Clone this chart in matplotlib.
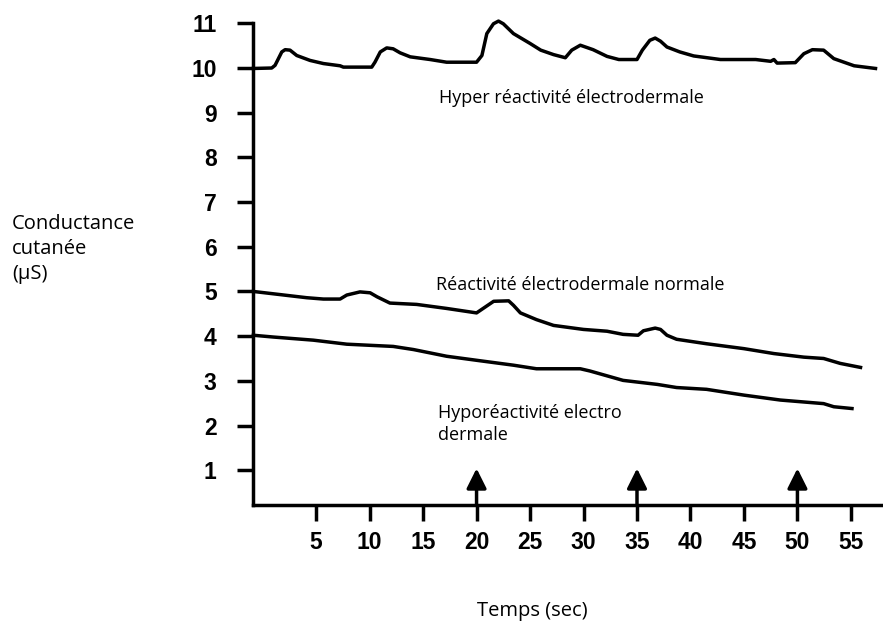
import numpy as np
import matplotlib.pyplot as plt
from matplotlib.patches import FancyArrowPatch

# hyper reactivity trace
t_hyper = [-0.87, 0.85, 1.16, 1.79, 2.1, 2.56, 3.19, 4.43, 5.68, 7.24, 7.55, 10.2, 10.5,
           11.0, 11.6, 12.2, 12.85, 13.8, 15.66, 17.2, 20.0, 20.5, 20.96, 21.58, 22.05,
           22.5, 23.45, 25.0, 26.0, 27.2, 28.3, 28.9, 29.7, 30.9, 32.2, 33.3, 35.0, 35.5,
           36.2, 36.7, 37.2, 37.8, 39.0, 40.3, 42.8, 46.1, 47.5, 47.8, 48.1, 49.8, 50.6,
           51.4, 52.45, 53.4, 55.3, 57.3]
g_hyper = [9.99, 10.0, 10.06, 10.36, 10.41, 10.40, 10.28, 10.17, 10.10, 10.05, 10.02, 10.02,
           10.13, 10.36, 10.45, 10.43, 10.34, 10.25, 10.19, 10.13, 10.13, 10.28, 10.77,
           10.99, 11.05, 10.99, 10.77, 10.55, 10.40, 10.30, 10.23, 10.40, 10.51, 10.41,
           10.26, 10.19, 10.19, 10.40, 10.62, 10.67, 10.60, 10.47, 10.36, 10.27, 10.19,
           10.19, 10.15, 10.19, 10.11, 10.12, 10.32, 10.41, 10.40, 10.21, 10.05, 9.99]

# normal reactivity trace
t_normal = [-0.87, 1.63, 4.12, 5.68, 7.24, 7.87, 9.1, 10.05, 10.7, 11.9, 14.4, 17.2, 20.0,
            20.8, 21.6, 23.0, 23.45, 24.1, 25.6, 27.2, 30.0, 32.2, 33.7, 35.1, 35.6, 36.7,
            37.2, 37.8, 38.7, 41.5, 45.0, 47.8, 50.6, 52.45, 54.0, 55.9]
g_normal = [5.0, 4.93, 4.86, 4.83, 4.83, 4.92, 4.99, 4.97, 4.88, 4.74, 4.71, 4.62, 4.52,
            4.65, 4.78, 4.79, 4.69, 4.52, 4.37, 4.24, 4.15, 4.11, 4.04, 4.02, 4.12, 4.18,
            4.15, 4.02, 3.93, 3.83, 3.72, 3.61, 3.53, 3.50, 3.39, 3.30]

# hypo reactivity trace
t_hypo = [-0.87, 1.0, 4.74, 7.87, 12.2, 14.1, 17.2, 20.3, 23.45, 25.6, 27.5, 29.7, 30.6,
          33.7, 36.9, 38.7, 41.5, 45.0, 48.4, 52.45, 53.4, 55.1]
g_hypo = [4.02, 3.98, 3.91, 3.82, 3.77, 3.70, 3.55, 3.45, 3.35, 3.27, 3.27, 3.27, 3.22,
          3.01, 2.92, 2.85, 2.81, 2.68, 2.57, 2.49, 2.42, 2.38]

stimuli = [20, 35, 50]
xticks = [5, 10, 15, 20, 25, 30, 35, 40, 45, 50, 55]
yticks = [1, 2, 3, 4, 5, 6, 7, 8, 9, 10, 11]

txt_font = 'Open Sans'
tick_font = 'Liberation Sans'

fig = plt.figure(figsize=(8.83, 6.22), dpi=100)
ax = fig.add_axes([0.2869, 0.188, 0.7131, 0.7745])

lw = 2.5
for t, g in [(t_hyper, g_hyper), (t_normal, g_normal), (t_hypo, g_hypo)]:
    ax.plot(t, g, color='black', lw=lw, clip_on=False, solid_joinstyle='round')

ybot = 0.22
for s in stimuli:
    arr = FancyArrowPatch((s, ybot), (s, 1.04), arrowstyle='-|>,head_length=0.6,head_width=0.3',
                          mutation_scale=20, color='black', lw=lw, shrinkA=0, shrinkB=0)
    ax.add_patch(arr)

ax.set_xlim(-0.87, 58.0)
ax.set_ylim(ybot, 11)
ax.spines['top'].set_visible(False)
ax.spines['right'].set_visible(False)
ax.spines['left'].set_linewidth(lw)
ax.spines['bottom'].set_linewidth(lw)

ax.set_xticks(xticks)
ax.set_yticks(yticks)
ax.tick_params(axis='both', direction='out', length=11.5, width=lw)
ax.tick_params(axis='y', pad=15)
ax.tick_params(axis='x', pad=7)
for lab in ax.get_xticklabels() + ax.get_yticklabels():
    lab.set_fontfamily(tick_font)
    lab.set_fontweight('bold')
    lab.set_fontsize(16.5)

ax.text(16.5, 9.34, 'Hyper réactivité électrodermale', family=txt_font, fontsize=13, va='center')
ax.text(16.2, 5.14, 'Réactivité électrodermale normale', family=txt_font, fontsize=13, va='center')
ax.text(16.4, 2.03, 'Hyporéactivité electro\ndermale', family=txt_font, fontsize=13,
        va='center', linespacing=1.3)

fig.text(12 / 883, 1 - 249 / 622, 'Conductance\ncutanée\n(\u00b5S)', family=txt_font,
         fontsize=14.5, va='center', ha='left', linespacing=1.35)
fig.text(532 / 883, 1 - 611 / 622, 'Temps (sec)', family=txt_font, fontsize=14.5,
         va='center', ha='center')

fig.savefig('out.png', dpi=100)
